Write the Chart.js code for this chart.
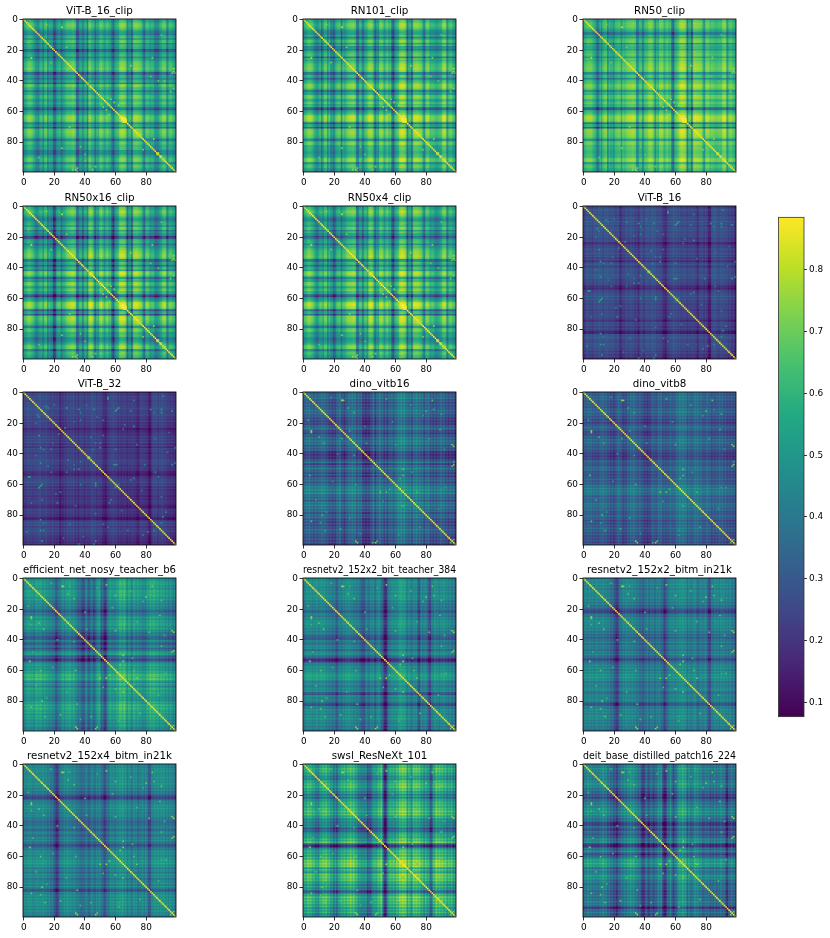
<!DOCTYPE html>
<html>
<head>
<meta charset="utf-8">
<title>Similarity matrices</title>
<script src="https://cdn.jsdelivr.net/npm/chart.js@4"></script>
<style>
  html, body { margin: 0; background: #fff; }
  #page { position: relative; width: 830px; height: 938px; overflow: hidden; }
  canvas { position: absolute; }
</style>
</head>
<body>
<div id="page"></div>
<script>
// The 100x100 matrices cannot be read cell by cell from the picture. What is read here:
// one banding level per class for each panel (in hundredths), the diagonal level,
// and the bright off-diagonal cells that stand out. Plain cells are built from the two bands.
const titles = ['ViT-B_16_clip', 'RN101_clip', 'RN50_clip', 'RN50x16_clip', 'RN50x4_clip', 'ViT-B_16', 'ViT-B_32', 'dino_vitb16', 'dino_vitb8', 'efficient_net_nosy_teacher_b6', 'resnetv2_152x2_bit_teacher_384', 'resnetv2_152x2_bitm_in21k', 'resnetv2_152x4_bitm_in21k', 'swsl_ResNeXt_101', 'deit_base_distilled_patch16_224'];

const vitB16ClipBands = [46,50,56,62,64,63,58,52,42,40, 36,52,55,40,58,60,38,52,50,48, 24,28,46,50,52,36,50,52,60,62, 63,62,66,66,58,26,30,50,48,36, 50,54,32,66,64,54,56,34,52,50, 62,64,60,50,56,62,54,52,36,26, 48,52,54,66,70,70,68,64,36,50, 52,30,66,68,68,66,64,62,50,34, 54,60,56,50,54,52,38,40,36,50, 54,62,64,62,36,52,60,56,50,46];
const rn101ClipBands = [50,54,58,64,66,64,60,52,44,42, 44,56,30,50,62,62,40,58,38,42, 30,50,56,60,60,30,58,50,58,62, 66,66,68,68,62,34,36,58,52,32, 52,56,62,70,70,68,56,32,50,48, 66,68,64,50,60,66,54,60,30,24, 50,54,60,72,76,76,74,68,30,52, 54,28,68,70,70,70,66,66,54,36, 60,68,66,52,56,54,52,48,50,54, 54,68,72,70,40,56,62,60,50,48];
const rn50ClipBands = [54,58,62,66,64,66,60,56,50,34, 36,56,44,62,64,66,38,58,52,54, 44,60,60,64,62,46,64,58,64,66, 68,68,70,70,66,40,46,62,58,38, 60,62,64,72,72,70,62,42,60,56, 70,70,68,56,64,68,60,62,32,28, 58,60,66,74,78,78,76,72,32,58, 58,26,72,74,72,72,70,70,60,42, 66,70,68,60,64,62,60,58,60,62, 60,70,74,72,44,60,66,64,58,56];
const rn50x16ClipBands = [48,52,56,62,64,60,56,50,40,38, 46,52,54,40,58,58,36,50,44,40, 12,22,48,52,52,34,50,50,58,62, 64,66,68,68,62,30,34,52,48,30, 52,54,38,70,72,68,56,32,52,48, 64,68,62,48,58,64,52,54,28,16, 46,50,56,72,74,74,72,66,28,50, 52,24,68,70,70,68,64,62,50,30, 56,62,58,46,50,50,38,36,40,46, 52,62,66,64,34,50,58,54,50,46];
const rn50x4ClipBands = [50,54,58,64,66,62,58,52,42,38, 44,54,52,46,60,60,38,54,44,42, 24,36,50,54,54,36,54,52,60,64, 66,66,68,70,64,32,36,56,50,32, 54,56,46,70,72,70,56,34,52,50, 66,68,64,50,60,66,54,56,30,22, 50,52,58,72,76,76,72,68,30,52, 54,28,70,70,70,70,66,64,52,34, 58,64,60,48,52,52,44,40,44,48, 52,64,68,66,36,52,60,56,50,48];
const vitB16Bands = [24,20,28,30,24,28,22,28,30,25, 32,28,30,24,30,28,30,25,28,26, 28,22,24,26,14,18,24,22,28,26, 24,30,24,28,20,26,16,24,30,24, 22,30,28,28,26,32,28,30,24,26, 24,24,18,16,13,22,24,26,26,32, 26,30,24,28,22,26,24,26,20,26, 22,26,24,24,20,15,26,24,26,20, 26,20,12,12,28,28,32,26,26,24, 30,26,28,24,26,20,26,18,22,16];
const vitB32Bands = [18,24,22,28,24,26,22,26,24,26, 26,30,24,26,24,28,22,24,20,26, 20,22,20,22,12,18,18,22,20,26, 22,26,22,28,18,26,16,26,22,24, 18,24,22,22,24,28,24,26,20,24, 22,22,16,15,12,20,22,24,24,28, 22,26,18,24,18,22,20,22,16,22, 18,22,20,20,16,13,18,24,20,22, 18,20,11,11,20,28,24,28,20,26, 24,28,22,24,20,20,18,20,16,18];
const dinoVitb16Bands = [36,30,38,34,42,30,36,26,38,28, 36,32,42,34,40,30,34,24,30,22, 28,22,36,32,44,26,30,20,34,30, 42,34,44,36,42,26,38,30,36,18, 24,16,24,18,28,30,42,20,36,32, 46,32,36,24,38,22,38,32,40,26, 40,36,48,42,52,40,52,38,40,34, 42,26,46,38,48,36,44,34,42,24, 40,34,42,26,34,24,36,24,34,30, 42,30,38,26,32,22,34,24,30,22];
const dinoVitb8Bands = [30,34,30,38,32,38,28,34,28,34, 26,38,32,40,30,36,26,32,22,30, 20,28,30,38,32,32,22,28,24,36, 30,40,34,42,32,34,28,36,26,28, 20,26,18,26,22,36,30,30,26,38, 34,38,26,32,26,32,28,38,28,34, 30,42,36,48,40,46,40,44,30,40, 32,34,34,44,36,42,32,40,30,32, 30,40,30,34,24,34,26,34,28,38, 30,36,26,34,24,30,24,30,22,30];
const efficientNetBands = [44,40,48,50,52,46,50,42,52,54, 48,54,50,44,52,42,46,38,44,36, 40,26,24,38,34,44,50,40,52,46, 54,50,44,52,40,42,30,38,26,22, 24,44,30,22,36,40,24,34,44,50, 52,26,34,16,18,40,46,52,44,50, 44,54,50,62,60,56,64,54,42,56, 50,38,56,52,46,54,44,50,40,46, 40,54,48,60,52,58,56,50,56,44, 54,48,52,42,50,38,48,44,36,42];
const bitTeacherBands = [42,38,46,48,44,48,40,46,42,50, 40,46,48,44,48,38,44,36,42,34, 40,32,24,38,42,34,46,40,48,44, 50,42,46,38,44,36,42,34,28,26, 24,42,36,32,44,40,44,30,42,46, 46,32,30,10,8,26,42,38,48,42, 48,44,50,54,56,50,54,46,38,48, 40,36,46,42,46,26,22,48,38,42, 44,36,24,20,42,38,50,42,46,38, 48,42,50,40,44,36,46,34,42,32];
const bitm2Bands = [38,42,44,40,48,40,46,38,44,46, 40,44,40,48,38,44,36,42,32,36, 28,20,16,24,40,34,46,40,48,42, 46,40,46,38,44,34,40,30,36,26, 36,34,44,30,42,38,40,32,42,38, 44,32,34,18,26,36,38,46,40,48, 38,48,42,50,46,52,44,48,34,46, 38,40,44,48,38,34,40,44,38,42, 46,34,22,24,42,38,48,40,46,38, 48,42,46,38,44,36,46,34,40,32];
const bitm4Bands = [40,44,40,46,44,48,40,44,42,48, 42,46,42,50,40,46,36,44,34,38, 30,20,14,24,38,40,40,48,42,50, 42,46,40,44,42,36,38,34,30,34, 32,42,36,28,38,44,36,34,44,38, 46,34,34,20,28,38,36,48,42,48, 38,50,44,52,48,54,44,50,36,46, 42,34,48,42,46,34,42,40,48,36, 48,38,24,26,44,42,50,42,50,42, 50,44,50,40,48,38,48,40,42,36];
const swslBands = [46,54,50,62,56,60,48,54,40,46, 38,56,52,62,56,64,50,56,42,48, 30,44,26,48,46,56,52,60,50,62, 58,68,56,66,50,56,38,46,36,42, 36,44,20,32,26,44,48,50,46,60, 54,68,40,8,8,42,50,58,50,60, 48,64,56,72,66,74,68,72,46,64, 52,46,70,62,68,60,66,52,58,42, 58,44,50,24,26,56,54,70,58,66, 58,64,52,62,44,56,48,58,40,48];
const deitBands = [34,42,38,50,40,46,36,44,36,42, 36,46,40,52,40,46,32,40,28,34, 22,28,14,32,30,40,36,46,38,50, 44,54,44,52,38,44,32,40,20,16, 18,38,26,20,36,32,24,34,32,46, 40,48,22,12,14,38,34,48,32,20, 34,36,50,56,50,62,50,56,32,50, 36,40,42,54,44,50,38,46,32,36, 42,36,42,30,38,32,44,30,40,34, 46,34,40,26,12,34,30,42,28,36];

const panelBands = [vitB16ClipBands, rn101ClipBands, rn50ClipBands, rn50x16ClipBands, rn50x4ClipBands, vitB16Bands, vitB32Bands, dinoVitb16Bands, dinoVitb8Bands, efficientNetBands, bitTeacherBands, bitm2Bands, bitm4Bands, swslBands, deitBands];
const diagonalLevels = [0.87, 0.87, 0.87, 0.88, 0.88, 0.86, 0.86, 0.87, 0.87, 0.87, 0.87, 0.87, 0.87, 0.88, 0.87];

// bright off-diagonal cells: [row, column, value], mirrored when drawn
const clipSpots = [[25,5,.8],[34,98,.78],[35,99,.75],[84,25,.72],[98,32,.76],[97,35,.72],[52,57,.74],[54,59,.72],[56,62,.74],[85,78,.72],[87,88,.74],[90,89,.72],[40,92,.7],[45,98,.72],[64,65,.88],[64,66,.86],[65,66,.88],[63,64,.84],[65,67,.84],[66,67,.84],[28,18,.72],[83,37,.7],[74,76,.78],[75,77,.76],[51,55,.72],[10,90,.68],[47,96,.7],[88,40,.68],[15,3,.7],[70,30,.76]];
const vitSpots = [[11,36,.5],[10,28,.48],[11,46,.48],[10,62,.52],[12,60,.55],[3,55,.5],[28,10,.5],[61,11,.55],[55,4,.55],[90,13,.5],[37,13,.48],[37,18,.46],[47,60,.5],[37,60,.46],[59,47,.5],[11,90,.52],[11,83,.5],[33,50,.48],[46,99,.55],[91,2,.5],[97,12,.5],[97,47,.52],[99,36,.55],[22,72,.5],[45,37,.46],[79,47,.46],[81,91,.5],[90,85,.48],[50,36,.46],[72,56,.46],[16,10,.44],[43,42,.6],[14,9,.42],[9,15,.42],[70,12,.42],[33,47,.46],[55,88,.44],[61,47,.44],[23,27,.5],[85,13,.44],[8,20,.4],[19,33,.4],[24,65,.42],[29,44,.42],[41,8,.42],[52,28,.4],[57,70,.44],[60,62,.46],[66,21,.42],[68,90,.42],[74,34,.4],[77,64,.42],[86,52,.42],[93,78,.44],[95,26,.4],[5,72,.42],[30,86,.42],[39,94,.42],[18,52,.4],[48,16,.42]];
const dinoSpots = [[5,25,.78],[26,5,.72],[33,13,.6],[35,98,.72],[47,98,.74],[54,4,.62],[84,5,.66],[80,12,.62],[97,34,.72],[97,48,.66],[34,60,.6],[65,50,.68],[65,54,.66],[63,56,.6],[65,74,.62],[11,85,.56],[10,29,.6],[89,24,.6],[96,98,.66],[30,25,.56],[70,8,.54],[45,98,.62],[90,14,.58],[18,3,.54],[22,40,.52],[41,33,.56],[58,19,.54],[76,88,.54],[82,30,.56],[93,62,.52],[15,78,.5],[52,71,.54],[62,90,.5],[37,92,.52]];
const cnnSpots = [[5,25,.76],[26,5,.74],[33,13,.68],[35,98,.76],[47,98,.74],[54,4,.72],[84,5,.7],[80,12,.7],[97,34,.74],[97,48,.7],[34,60,.66],[65,50,.72],[65,54,.74],[63,56,.7],[65,74,.7],[11,85,.66],[10,29,.66],[89,24,.66],[96,98,.7],[60,11,.68],[82,35,.66],[44,90,.66],[70,8,.62],[72,60,.66],[30,5,.62],[90,14,.68],[18,3,.62],[22,40,.6],[41,33,.64],[58,19,.62],[76,88,.64],[15,78,.6],[52,71,.62],[62,90,.6],[37,92,.62],[93,62,.62],[6,48,.6],[74,28,.62]];
const panelSpots = [clipSpots, clipSpots, clipSpots, clipSpots, clipSpots, vitSpots, vitSpots, dinoSpots, dinoSpots, cnnSpots, cnnSpots, cnnSpots, cnnSpots, cnnSpots, cnnSpots];

const indexTicks = [0, 20, 40, 60, 80];
const colorbarTicks = [0.1, 0.2, 0.3, 0.4, 0.5, 0.6, 0.7, 0.8];
const colorMin = 0.0768;
const colorMax = 0.885;
const viridis = ['#440154', '#482475', '#414487', '#355f8d', '#2a788e', '#21918c', '#22a884', '#44bf70', '#7ad151', '#bddf26', '#fde725'];

const panelLefts = [23.3, 303.3, 583.3];
const panelTops = [19.3, 205.7, 391.7, 578.3, 764.3];
const panelSize = 153.4;
const tickFont = { family: 'DejaVu Sans', size: 8.9 };
const page = document.getElementById('page');

function hexToRgb(hex) {
  return [1, 3, 5].map(i => parseInt(hex.slice(i, i + 2), 16));
}

function colorFor(value) {
  const t = Math.min(1, Math.max(0, (value - colorMin) / (colorMax - colorMin))) * (viridis.length - 1);
  const low = Math.min(viridis.length - 2, Math.floor(t));
  const a = hexToRgb(viridis[low]);
  const b = hexToRgb(viridis[low + 1]);
  const c = a.map((v, i) => Math.round(v + (b[i] - v) * (t - low)));
  return `rgb(${c[0]},${c[1]},${c[2]})`;
}

function buildCells(bands, diagonal, spots) {
  const mean = bands.reduce((sum, v) => sum + v, 0) / bands.length;
  const plain = [];
  const bright = [];
  const spotLookup = {};
  spots.forEach(([row, col, value]) => {
    spotLookup[row + '_' + col] = value;
    spotLookup[col + '_' + row] = value;
  });
  for (let row = 0; row < 100; row++) {
    for (let col = 0; col < 100; col++) {
      const spot = spotLookup[row + '_' + col];
      if (row === col) {
        bright.push({ x: col, y: row, value: diagonal });
      } else if (spot !== undefined) {
        bright.push({ x: col, y: row, value: spot });
      } else {
        plain.push({ x: col, y: row, value: (mean + 0.8 * (bands[row] - mean + bands[col] - mean)) / 100 });
      }
    }
  }
  return { plain, bright };
}

const frame = {
  id: 'frame',
  afterDraw(chart) {
    const { ctx, chartArea: a } = chart;
    ctx.save();
    ctx.strokeStyle = chart.options.plugins.frame.color;
    ctx.lineWidth = 0.8;
    ctx.strokeRect(a.left, a.top, a.right - a.left, a.bottom - a.top);
    ctx.restore();
  }
};

function addCanvas(left, top, width, height) {
  const canvas = document.createElement('canvas');
  canvas.style.left = left + 'px';
  canvas.style.top = top + 'px';
  canvas.style.width = width + 'px';
  canvas.style.height = height + 'px';
  canvas.width = width;
  canvas.height = height;
  page.appendChild(canvas);
  return canvas;
}

function cellDataset(cells, radius, order) {
  return {
    data: cells,
    order: order,
    pointStyle: 'rect',
    pointRadius: radius,
    pointBorderWidth: 0,
    pointBackgroundColor: cells.map(c => colorFor(c.value)),
    clip: 0
  };
}

function renderPanel(index) {
  const column = index % 3;
  const row = Math.floor(index / 3);
  const { plain, bright } = buildCells(panelBands[index], diagonalLevels[index], panelSpots[index]);
  const sideWidth = 23;
  const titleHeight = 18;
  const axisHeight = 20;
  const canvas = addCanvas(panelLefts[column] - sideWidth, panelTops[row] - titleHeight, Math.round(panelSize) + sideWidth * 2, titleHeight + Math.round(panelSize) + axisHeight);

  const fixTicks = axis => {
    axis.ticks = indexTicks.map(v => ({ value: v, label: String(v) }));
  };

  new Chart(canvas, {
    type: 'scatter',
    data: {
      // chart.js draws the lowest order last, so the bright cells stay on top
      datasets: [cellDataset(plain, 1.8, 2), cellDataset(bright, 1.15, 1)]
    },
    plugins: [frame],
    options: {
      responsive: false,
      animation: false,
      events: [],
      layout: { padding: { left: 0, right: sideWidth, top: 0, bottom: 0 } },
      plugins: {
        legend: { display: false },
        tooltip: { enabled: false },
        frame: { color: '#000' },
        title: {
          display: true,
          fullSize: false,
          text: titles[index],
          color: '#000',
          font: { family: 'DejaVu Sans', size: 10.3, weight: 'normal', lineHeight: 1.2 },
          padding: { top: 4.6, bottom: 1 }
        }
      },
      scales: {
        x: {
          type: 'linear',
          min: -0.5,
          max: 99.5,
          afterBuildTicks: fixTicks,
          afterFit: axis => { axis.height = axisHeight; },
          grid: { drawOnChartArea: false, tickLength: 3.5, tickColor: '#000', tickWidth: 0.8 },
          border: { display: false },
          ticks: { color: '#000', font: tickFont, padding: 1.5, maxRotation: 0, autoSkip: false }
        },
        y: {
          type: 'linear',
          reverse: true,
          min: -0.5,
          max: 99.5,
          afterBuildTicks: fixTicks,
          afterFit: axis => { axis.width = sideWidth; },
          grid: { drawOnChartArea: false, tickLength: 3.5, tickColor: '#000', tickWidth: 0.8 },
          border: { display: false },
          ticks: { color: '#000', font: tickFont, padding: 1.5, autoSkip: false }
        }
      }
    }
  });
}

function renderColorbar() {
  const canvas = addCanvas(778, 210, 52, 514);
  new Chart(canvas, {
    type: 'bar',
    data: {
      labels: [''],
      datasets: [{
        data: [[colorMin, colorMax]],
        barPercentage: 1,
        categoryPercentage: 1,
        backgroundColor: context => {
          const area = context.chart.chartArea;
          if (!area) return viridis[0];
          const gradient = context.chart.ctx.createLinearGradient(0, area.bottom, 0, area.top);
          viridis.forEach((color, i) => gradient.addColorStop(i / (viridis.length - 1), color));
          return gradient;
        }
      }]
    },
    plugins: [frame],
    options: {
      responsive: false,
      animation: false,
      events: [],
      layout: { padding: { left: 0.4, right: 0, top: 4, bottom: 4.3 } },
      plugins: {
        legend: { display: false },
        tooltip: { enabled: false },
        frame: { color: '#333' }
      },
      scales: {
        x: { display: false },
        y: {
          position: 'right',
          min: colorMin,
          max: colorMax,
          afterBuildTicks: axis => {
            axis.ticks = colorbarTicks.map(v => ({ value: v, label: v.toFixed(1) }));
          },
          afterFit: axis => { axis.width = 26; },
          grid: { drawOnChartArea: false, tickLength: 3, tickColor: '#000', tickWidth: 0.8 },
          border: { display: false },
          ticks: { color: '#000', font: { family: 'DejaVu Sans', size: 8.9 }, padding: 2, autoSkip: false }
        }
      }
    }
  });
}

titles.forEach((title, index) => renderPanel(index));
renderColorbar();
</script>
</body>
</html>
